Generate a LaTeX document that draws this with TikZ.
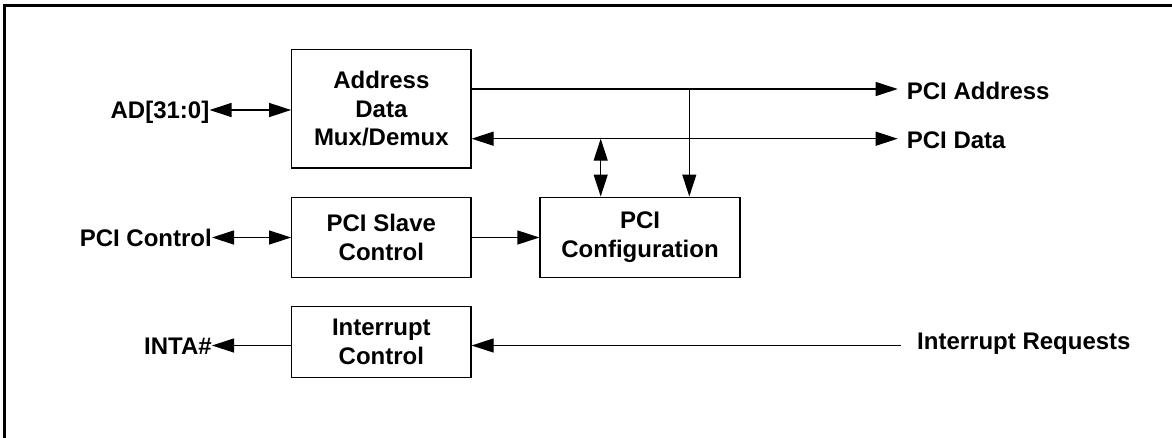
\documentclass[tikz,border=0pt]{standalone}
\usepackage{fontspec}
\setmainfont{Liberation Sans}
\usetikzlibrary{arrows.meta}
\tikzset{
  blk/.style={draw, line width=1.2pt, inner sep=0pt, align=center,
    font=\fontsize{24}{28.5}\selectfont\bfseries},
  lbl/.style={inner sep=0pt, text height=17.2pt, text depth=0pt,
    font=\fontsize{24}{28.5}\selectfont\bfseries},
  conn/.style={line width=1.2pt, arrows={-Triangle[length=22pt,width=14pt]}},
  bconn/.style={line width=1.2pt, arrows={Triangle[length=22pt,width=14pt]-Triangle[length=22pt,width=14pt]}},
  plain/.style={line width=1.2pt},
  frame/.style={line width=2.5pt}
}
\begin{document}
\begin{tikzpicture}[x=1pt,y=-1pt]
\useasboundingbox (0,0) rectangle (1172,437);
% frame (only left and top edges visible)
\draw[frame] (4.6,440) -- (4.6,5.7) -- (1175,5.7);

% blocks
\node[blk, minimum width=179.3pt, minimum height=118.7pt] (addr) at (381.35,108.65) {Address\\Data\\Mux/Demux};
\node[blk, minimum width=179.3pt, minimum height=80.4pt] (slave) at (381.35,237.5) {PCI Slave\\Control};
\node[blk, minimum width=179.3pt, minimum height=70.6pt] (intc) at (381.35,342) {Interrupt\\Control};
\node[blk, minimum width=200pt, minimum height=80.6pt] (cfg) at (640,237.4) {PCI\\Configuration};

% labels
\node[lbl, anchor=east] (ad) at (209.5,110) {AD[31:0]};
\node[lbl, anchor=east] (pcictl) at (212,237.5) {PCI Control};
\node[lbl, anchor=east] (inta) at (212,345.5) {INTA\#};
\coordinate (pa) at (897.7,89);
\coordinate (pd) at (897.7,138.7);
\node[lbl, anchor=west] (pcia) at (906.7,90.5) {PCI Address};
\node[lbl, anchor=west] (pcid) at (906.7,139.5) {PCI Data};
\coordinate (irqend) at (900.7,345.5);
\node[lbl, anchor=west] (irq) at (917,341) {Interrupt Requests};

% connectors
\draw[bconn] (ad.east) -- (addr.west |- ad.east);
\draw[bconn] (pcictl.east) -- (slave.west |- pcictl.east);
\draw[conn] (intc.west |- inta.east) -- (inta.east);
\draw[conn] (irqend) -- (intc.east |- irqend);
\draw[conn] (addr.east |- pa) -- (pa);
\draw[bconn] (addr.east |- pd) -- (pd);
\draw[conn] (slave.east) -- (cfg.west |- slave.east);
\coordinate (tapa) at (689.3,89);
\coordinate (tapd) at (600.7,138.7);
\draw[conn] (tapa) -- (tapa |- cfg.north);
\draw[bconn] (tapd) -- (tapd |- cfg.north);
\end{tikzpicture}
\end{document}
